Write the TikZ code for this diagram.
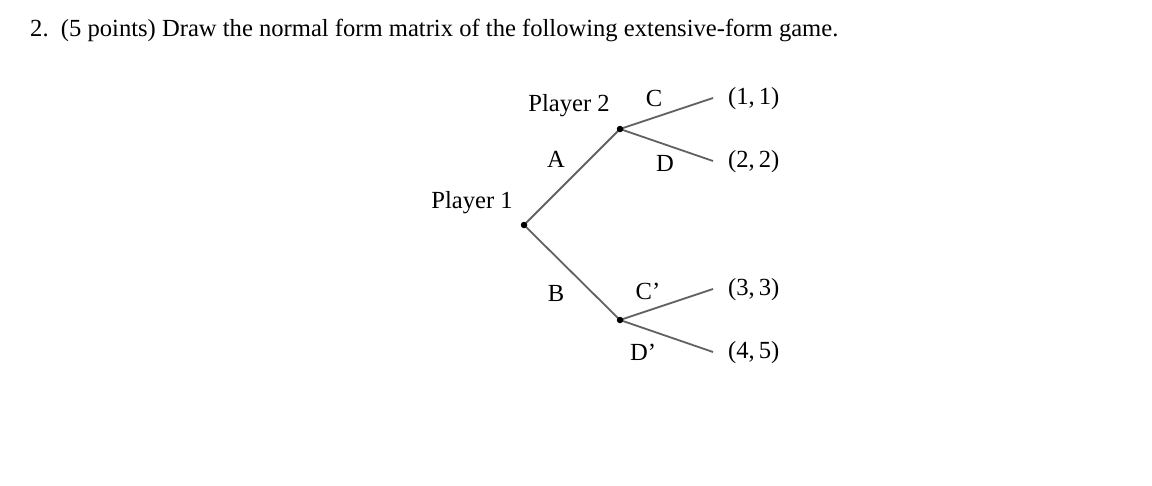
\documentclass[tikz,border=0pt]{standalone}
\usepackage{fontspec}
\setmainfont{Liberation Serif}
\usetikzlibrary{backgrounds}
\begin{document}
\begin{tikzpicture}[x=1pt,y=-1pt,
  edge/.style={draw=black!62,line width=1.8pt},
  dot/.style={circle,fill=black,inner sep=0pt,minimum size=6.5pt},
  lbl/.style={inner sep=0pt,font=\fontsize{24.6}{28}\selectfont}]
\useasboundingbox (0,0) rectangle (1152,485);
\node[lbl,anchor=base west] (title) at (30,36) {2.\ \ (5 points) Draw the normal form matrix of the following extensive-form game.};
\node[dot] (r) at (524,225) {};
\node[dot] (u) at (620,129) {};
\node[dot] (l) at (620,320) {};
\coordinate (uc) at (713,98);
\coordinate (ud) at (713,161);
\coordinate (lc) at (713,289);
\coordinate (ld) at (713,352);
\begin{scope}[on background layer]
\draw[edge] (r.center) -- (u.center);
\draw[edge] (r.center) -- (l.center);
\draw[edge] (u.center) -- (uc);
\draw[edge] (u.center) -- (ud);
\draw[edge] (l.center) -- (lc);
\draw[edge] (l.center) -- (ld);
\end{scope}
\node[lbl] (p1) at (472,203) {Player 1};
\node[lbl] (p2) at (569,106) {Player 2};
\node[lbl] (a) at (556,159) {A};
\node[lbl] (b) at (556,293) {B};
\node[lbl] (c) at (654,98) {C};
\node[lbl] (d) at (665,163) {D};
\node[lbl] (cp) at (648,291) {C’};
\node[lbl] (dp) at (643,352) {D’};
\node[lbl,anchor=west] (o1) at (728,99) {(1,\,1)};
\node[lbl,anchor=west] (o2) at (728,162) {(2,\,2)};
\node[lbl,anchor=west] (o3) at (728,290) {(3,\,3)};
\node[lbl,anchor=west] (o4) at (728,353) {(4,\,5)};
\end{tikzpicture}
\end{document}
